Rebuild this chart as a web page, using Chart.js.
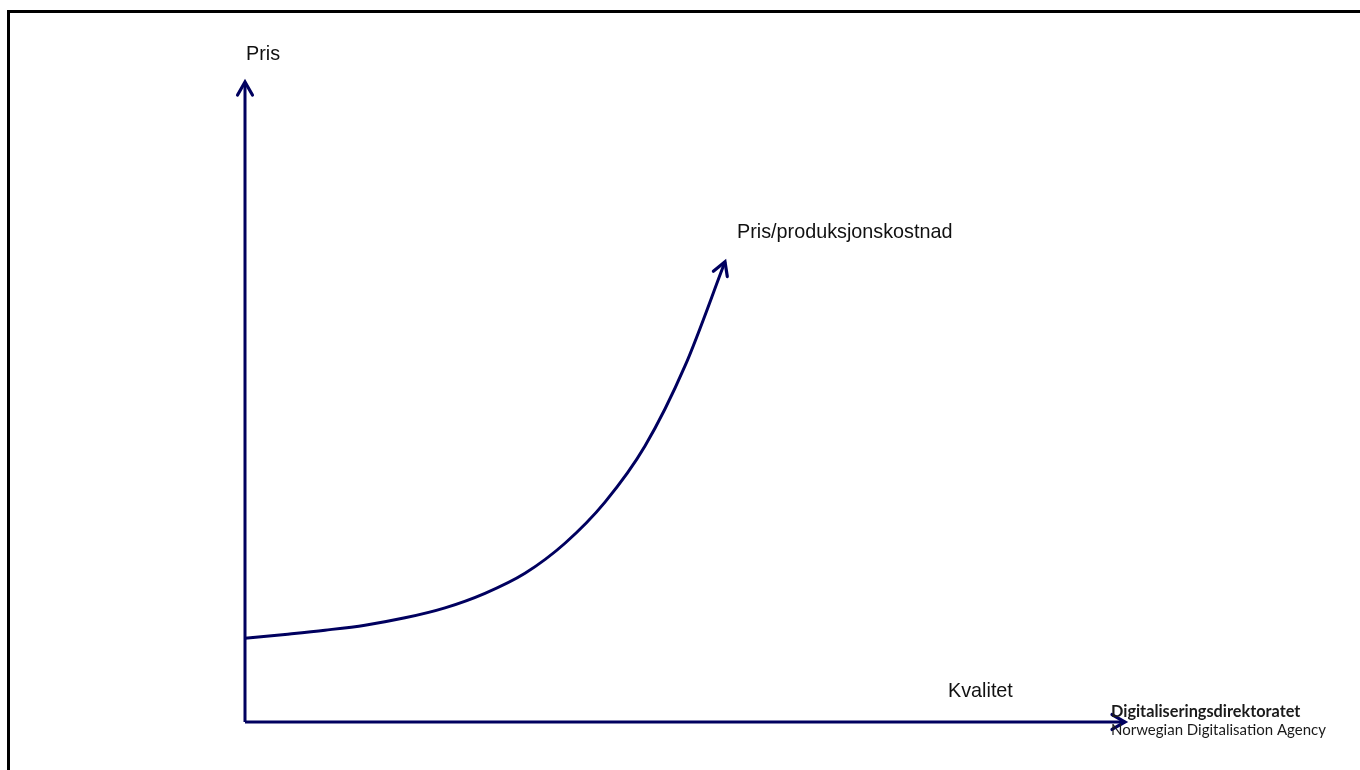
<!DOCTYPE html>
<html>
<head>
<meta charset="utf-8">
<script src="https://cdn.jsdelivr.net/npm/chart.js@4/dist/chart.umd.min.js"></script>
<style>
  html, body { margin: 0; padding: 0; background: #fff; }
  #wrap { width: 1360px; height: 770px; position: relative; }
</style>
</head>
<body>
<div id="wrap"><canvas id="c" width="1360" height="770"></canvas></div>
<script>
// Axis domain (abstract units)
const axisX = [0, 110];   // Kvalitet
const axisY = [0, 100];   // Pris
// Pris/produksjonskostnad curve
const kvalitet = [0, 5, 10, 15, 20, 25, 30, 35, 40, 45, 50, 55, 60];
const pris     = [13.07, 13.69, 14.35, 15.13, 16.28, 17.84, 20.11, 23.24, 27.93, 34.35, 43.11, 55.63, 71.91];
// Texts
const labelY = 'Pris';
const labelX = 'Kvalitet';
const labelCurve = 'Pris/produksjonskostnad';
const logo1 = 'Digitaliseringsdirektoratet';
const logo2 = 'Norwegian Digitalisation Agency';

const navy = '#00005f';

const curvePts = kvalitet.map((x, i) => ({ x: x, y: pris[i] }));
const yAxisPts = [{ x: axisX[0], y: axisY[0] }, { x: axisX[0], y: axisY[1] }];
const xAxisPts = [{ x: axisX[0], y: axisY[0] }, { x: axisX[1], y: axisY[0] }];

const framePlugin = {
  id: 'frame',
  beforeDraw(chart) {
    const ctx = chart.ctx;
    ctx.save();
    ctx.fillStyle = '#fff';
    ctx.fillRect(0, 0, chart.width, chart.height);
    ctx.fillStyle = '#000';
    ctx.fillRect(7, 10, chart.width, 3);
    ctx.fillRect(7, 10, 3, chart.height);
    ctx.restore();
  }
};

const arrowPlugin = {
  id: 'arrows',
  afterDatasetsDraw(chart) {
    const ctx = chart.ctx;
    chart.data.datasets.forEach((ds, i) => {
      const meta = chart.getDatasetMeta(i);
      const pts = meta.data;
      const a = pts[pts.length - 1], b = pts[pts.length - 2];
      let ang = Math.atan2(a.y - b.y, a.x - b.x);
      if (a.cp1x !== undefined && Math.hypot(a.cp1x - a.x, a.cp1y - a.y) > 0.5) {
        ang = Math.atan2(a.y - a.cp1y, a.x - a.cp1x);
      }
      const len = 15, spread = 0.52;
      ctx.save();
      ctx.strokeStyle = navy;
      ctx.lineWidth = 3.2;
      ctx.lineCap = 'round';
      ctx.lineJoin = 'miter';
      ctx.beginPath();
      ctx.moveTo(a.x - len * Math.cos(ang - spread), a.y - len * Math.sin(ang - spread));
      ctx.lineTo(a.x, a.y);
      ctx.lineTo(a.x - len * Math.cos(ang + spread), a.y - len * Math.sin(ang + spread));
      ctx.stroke();
      ctx.restore();
    });
  }
};

const textPlugin = {
  id: 'texts',
  afterDraw(chart) {
    const ctx = chart.ctx;
    const xs = chart.scales.x, ys = chart.scales.y;
    ctx.save();
    ctx.fillStyle = '#111';
    ctx.textBaseline = 'middle';
    ctx.textAlign = 'left';
    ctx.font = '19.8px "Liberation Sans", Arial, sans-serif';
    ctx.fillText(labelY, xs.getPixelForValue(axisX[0]) + 1, ys.getPixelForValue(axisY[1]) - 27);
    const last = curvePts[curvePts.length - 1];
    ctx.fillText(labelCurve, 737, ys.getPixelForValue(last.y) - 29);
    ctx.fillText(labelX, 948, ys.getPixelForValue(axisY[0]) - 30);
    ctx.fillStyle = '#1a1a1a';
    ctx.font = 'bold 16.3px Lato, "Noto Sans", sans-serif';
    ctx.fillText(logo1, 1111, 712);
    ctx.font = '15px Lato, "Noto Sans", sans-serif';
    ctx.fillText(logo2, 1111, 730);
    ctx.restore();
  }
};

new Chart(document.getElementById('c'), {
  type: 'scatter',
  data: {
    datasets: [
      { data: yAxisPts, showLine: true, borderColor: navy, borderWidth: 3, pointRadius: 0, clip: false },
      { data: xAxisPts, showLine: true, borderColor: navy, borderWidth: 3, pointRadius: 0, clip: false },
      { data: curvePts, showLine: true, borderColor: navy, borderWidth: 3, pointRadius: 0, clip: false,
        cubicInterpolationMode: 'monotone' }
    ]
  },
  options: {
    responsive: false,
    animation: false,
    layout: { padding: { left: 245, right: 235, top: 82, bottom: 48 } },
    scales: {
      x: { type: 'linear', min: axisX[0], max: axisX[1], display: false },
      y: { type: 'linear', min: axisY[0], max: axisY[1], display: false }
    },
    plugins: { legend: { display: false }, tooltip: { enabled: false } }
  },
  plugins: [framePlugin, arrowPlugin, textPlugin]
});
</script>
</body>
</html>
